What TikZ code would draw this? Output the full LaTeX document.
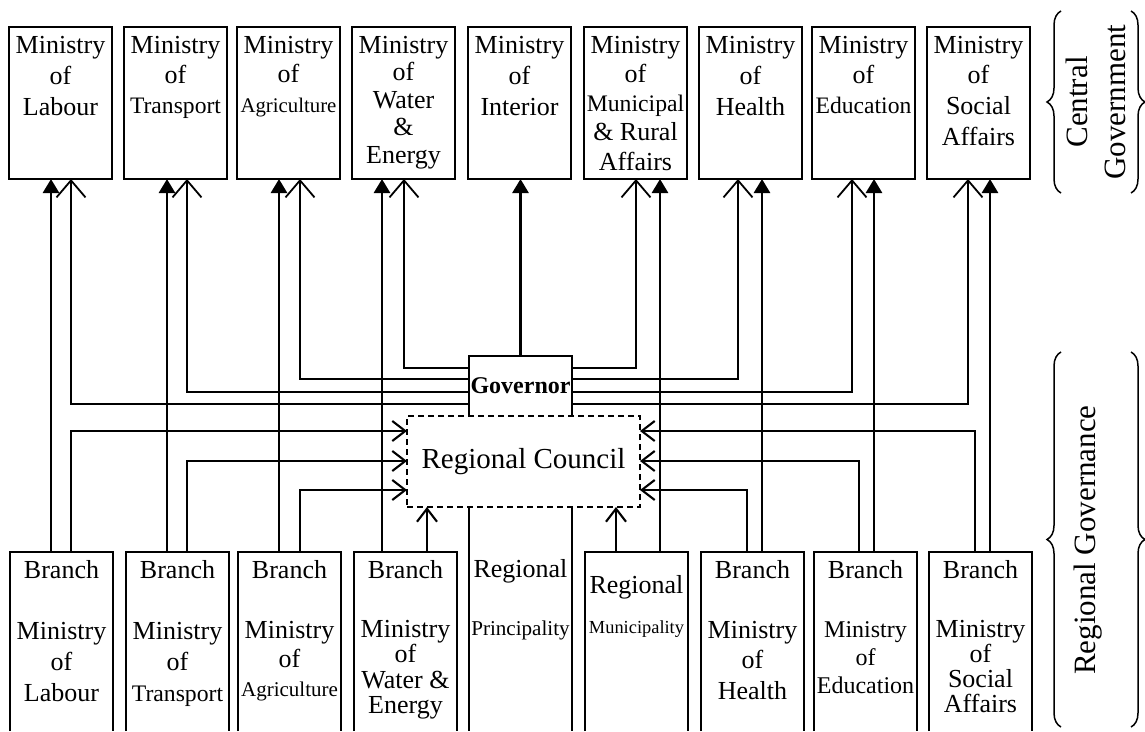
\documentclass[tikz,border=0pt]{standalone}
\usepackage{fontspec}
\setmainfont{Liberation Serif}
\usetikzlibrary{arrows.meta,decorations.pathreplacing}

% text cells: fixed-size box, first baseline and line pitch set per cell
\newlength\cellskip
\newcommand\setsz[1]{\fontsize{#1}{\cellskip}\selectfont}
\newcommand\normsz{\setsz{26}}
\newcommand\cell[5]{\parbox[t][#2][t]{#1}{\centering\setlength\cellskip{#4}%
  \lineskiplimit=-\maxdimen\lineskip=0pt\relax\rule{0pt}{#3}#5\par}}

\tikzset{
  cellnode/.style={inner sep=0pt, outer sep=0pt, anchor=north west},
  framed/.style={cellnode, draw, line width=2.2pt},
  side/.style={line width=2.2pt},
  strong/.style={line width=2.7pt, -{Triangle[length=14pt,width=16pt]}},
  govlink/.style={line width=1.8pt, -{Straight Barb[length=17pt,width=29pt]}},
  cnclink/.style={line width=2.1pt, -{Straight Barb[length=13pt,width=20pt]}},
  bracket/.style={decorate, decoration={brace, amplitude=14pt}, line width=1.5pt},
}

\begin{document}
\begin{tikzpicture}[x=1pt,y=-1pt]
\useasboundingbox (0,0) rectangle (1145,731);

% ---- central ministries ----
\node[framed] (tb1) at (9,27)   {\cell{103pt}{152pt}{26pt}{31pt}{\normsz Ministry\\\normsz of\\\normsz Labour}};
\node[framed] (tb2) at (124,27) {\cell{103pt}{152pt}{26pt}{30pt}{\normsz Ministry\\\normsz of\\\setsz{23.6}Transport}};
\node[framed] (tb3) at (237,27) {\cell{103pt}{152pt}{26pt}{29.5pt}{\normsz Ministry\\\normsz of\\\setsz{20.8}Agriculture}};
\node[framed] (tb4) at (352,27) {\cell{103pt}{152pt}{26pt}{27.5pt}{\normsz Ministry\\\normsz of\\\normsz Water\\\normsz \&\\\normsz Energy}};
\node[framed] (tb5) at (468,27) {\cell{103pt}{152pt}{26pt}{31pt}{\normsz Ministry\\\normsz of\\\normsz Interior}};
\node[framed] (tb6) at (584,27) {\cell{103pt}{152pt}{26pt}{29.3pt}{\normsz Ministry\\\normsz of\\\setsz{23.7}Municipal\\\normsz \& Rural\\\normsz Affairs}};
\node[framed] (tb7) at (699,27) {\cell{103pt}{152pt}{26pt}{31pt}{\normsz Ministry\\\normsz of\\\normsz Health}};
\node[framed] (tb8) at (812,27) {\cell{103pt}{152pt}{26pt}{30pt}{\normsz Ministry\\\normsz of\\\setsz{23.6}Education}};
\node[framed] (tb9) at (927,27) {\cell{103pt}{152pt}{26pt}{30.7pt}{\normsz Ministry\\\normsz of\\\normsz Social\\\normsz Affairs}};

% ---- regional bodies ----
\node[cellnode] (bb1) at (10,552)  {\cell{103pt}{179pt}{26pt}{31pt}{\normsz Branch\\[30pt]\normsz Ministry\\\normsz of\\\normsz Labour}};
\node[cellnode] (bb2) at (126,552) {\cell{103pt}{179pt}{26pt}{31pt}{\normsz Branch\\[30pt]\normsz Ministry\\\normsz of\\\setsz{23.7}Transport}};
\node[cellnode] (bb3) at (238,552) {\cell{103pt}{179pt}{26pt}{29pt}{\normsz Branch\\[31pt]\normsz Ministry\\\normsz of\\\setsz{21}Agriculture}};
\node[cellnode] (bb4) at (354,552) {\cell{103pt}{179pt}{26pt}{25.5pt}{\normsz Branch\\[33.5pt]\normsz Ministry\\\normsz of\\\normsz Water \&\\\normsz Energy}};
\node[cellnode] (bb5) at (469,507) {\cell{103pt}{224pt}{70pt}{58pt}{\normsz Regional\\\setsz{21.1}Principality}};
\node[cellnode] (bb6) at (585,552) {\cell{103pt}{179pt}{41pt}{40pt}{\normsz Regional\\\setsz{18.4}Municipality}};
\node[cellnode] (bb7) at (701,552) {\cell{103pt}{179pt}{26pt}{30.5pt}{\normsz Branch\\[29.5pt]\normsz Ministry\\\normsz of\\\normsz Health}};
\node[cellnode] (bb8) at (814,552) {\cell{103pt}{179pt}{26pt}{28pt}{\normsz Branch\\[31pt]\setsz{24}Ministry\\\setsz{24}of\\\setsz{24}Education}};
\node[cellnode] (bb9) at (929,552) {\cell{103pt}{179pt}{26pt}{25.3pt}{\normsz Branch\\[33.7pt]\normsz Ministry\\\normsz of\\\normsz Social\\\normsz Affairs}};

% open-bottomed frames running off the lower edge
\foreach \b in {bb1,bb2,bb3,bb4,bb6,bb7,bb8,bb9}
  \draw[side] (\b.south west) -- (\b.north west) -- (\b.north east) -- (\b.south east);
\draw[side] (bb5.north west) -- (bb5.south west) (bb5.north east) -- (bb5.south east);

% ---- governor and council ----
\node[cellnode, minimum width=103pt, minimum height=60pt,
      font=\bfseries\fontsize{24}{24}\selectfont] (gov) at (469,356) {Governor};
\draw[side] (gov.south west) -- (gov.north west) -- (gov.north east) -- (gov.south east);
\node[cellnode, draw, dash pattern=on 6pt off 4pt, line width=2pt,
      minimum width=233pt, minimum height=91pt,
      font=\fontsize{29}{29}\selectfont] (council) at (407,416) {Regional Council};

% ---- columns and levels of the connectors ----
\coordinate (th1) at (51,0);  \coordinate (th2) at (167,0);
\coordinate (th3) at (279,0); \coordinate (th4) at (382,0);
\coordinate (th6) at (660,0); \coordinate (th7) at (762,0);
\coordinate (th8) at (874,0); \coordinate (th9) at (990,0);

\coordinate (op1) at (71,0);  \coordinate (op2) at (187,0);
\coordinate (op3) at (300,0); \coordinate (op4) at (404,0);
\coordinate (op6) at (636,0); \coordinate (op7) at (738,0);
\coordinate (op8) at (852,0); \coordinate (op9) at (968,0);

\coordinate (cb1) at (71,0);  \coordinate (cb2) at (187,0);
\coordinate (cb3) at (300,0); \coordinate (cb4) at (427,0);
\coordinate (cb6) at (616,0); \coordinate (cb7) at (747,0);
\coordinate (cb8) at (859,0); \coordinate (cb9) at (975,0);

\coordinate (ga) at (0,368); \coordinate (gb) at (0,379);
\coordinate (gc) at (0,392); \coordinate (gd) at (0,404);
\coordinate (ca) at (0,431); \coordinate (cc) at (0,461);
\coordinate (ce) at (0,490);

% branches report straight up to their ministries
\draw[strong] (bb1.north -| th1) -- (tb1.south -| th1);
\draw[strong] (bb2.north -| th2) -- (tb2.south -| th2);
\draw[strong] (bb3.north -| th3) -- (tb3.south -| th3);
\draw[strong] (bb4.north -| th4) -- (tb4.south -| th4);
\draw[strong] (gov.north) -- (gov.north |- tb5.south);
\draw[strong] (bb6.north -| th6) -- (tb6.south -| th6);
\draw[strong] (bb7.north -| th7) -- (tb7.south -| th7);
\draw[strong] (bb8.north -| th8) -- (tb8.south -| th8);
\draw[strong] (bb9.north -| th9) -- (tb9.south -| th9);

% governor to ministries
\draw[govlink] (gov.west |- ga) -| (tb4.south -| op4);
\draw[govlink] (gov.west |- gb) -| (tb3.south -| op3);
\draw[govlink] (gov.west |- gc) -| (tb2.south -| op2);
\draw[govlink] (gov.west |- gd) -| (tb1.south -| op1);
\draw[govlink] (gov.east |- ga) -| (tb6.south -| op6);
\draw[govlink] (gov.east |- gb) -| (tb7.south -| op7);
\draw[govlink] (gov.east |- gc) -| (tb8.south -| op8);
\draw[govlink] (gov.east |- gd) -| (tb9.south -| op9);

% regional bodies to the council
\draw[cnclink] (bb1.north -| cb1) |- (council.west |- ca);
\draw[cnclink] (bb2.north -| cb2) |- (council.west |- cc);
\draw[cnclink] (bb3.north -| cb3) |- (council.west |- ce);
\draw[cnclink] (bb4.north -| cb4) -- (council.south -| cb4);
\draw[cnclink] (bb6.north -| cb6) -- (council.south -| cb6);
\draw[cnclink] (bb7.north -| cb7) |- (council.east |- ce);
\draw[cnclink] (bb8.north -| cb8) |- (council.east |- cc);
\draw[cnclink] (bb9.north -| cb9) |- (council.east |- ca);

% ---- level labels ----
\node[rotate=90, align=center, font=\fontsize{31}{38}\selectfont] (central) at (1096,102) {Central\\Government};
\node[rotate=90, font=\fontsize{31}{31}\selectfont] (regional) at (1088,540) {Regional Governance};
\draw[bracket] (1061,193) -- (1061,11);
\draw[bracket] (1131,11) -- (1131,193);
\draw[bracket] (1061,727) -- (1061,352);
\draw[bracket] (1131,352) -- (1131,727);
\end{tikzpicture}
\end{document}
